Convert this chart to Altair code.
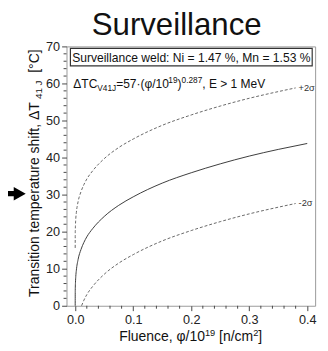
import altair as alt
import pandas as pd

# ---- data ----
fluence_mean = [0, 0.0001, 0.0005, 0.001, 0.002, 0.005, 0.01, 0.015, 0.02, 0.03,
                0.05, 0.075, 0.1, 0.15, 0.2, 0.25, 0.3, 0.35, 0.4]
shift_mean = [0, 4.1, 6.4, 7.9, 9.6, 12.5, 15.2, 17.1, 18.6, 20.8,
              24.1, 27.1, 29.4, 33.1, 35.9, 38.3, 40.4, 42.2, 43.8]

fluence_upper = [0, 0.0001, 0.0005, 0.001, 0.002, 0.005, 0.01, 0.015, 0.02, 0.03,
                 0.05, 0.075, 0.1, 0.15, 0.2, 0.25, 0.3, 0.35, 0.38]
shift_upper = [15.6, 19.7, 22.0, 23.5, 25.2, 28.1, 30.8, 32.7, 34.2, 36.4,
               39.7, 42.7, 45.0, 48.7, 51.5, 53.9, 56.0, 57.8, 58.8]

fluence_lower = [0.011, 0.015, 0.02, 0.03, 0.05, 0.075, 0.1, 0.15, 0.2, 0.25,
                 0.3, 0.35, 0.38]
shift_lower = [0, 1.5, 3.0, 5.2, 8.5, 11.5, 13.8, 17.5, 20.3, 22.7,
               24.8, 26.6, 27.6]

sigma_x = [0.38, 0.38]
sigma_y = [58.8, 27.6]
sigma_text = ["+2σ", "-2σ"]

x_ticks = [0.0, 0.1, 0.2, 0.3, 0.4]
y_ticks = [0, 10, 20, 30, 40, 50, 60, 70]
x_minor = [0.02, 0.04, 0.06, 0.08, 0.12, 0.14, 0.16, 0.18, 0.22, 0.24, 0.26, 0.28,
           0.32, 0.34, 0.36, 0.38]
y_minor = [2, 4, 6, 8, 12, 14, 16, 18, 22, 24, 26, 28, 32, 34, 36, 38, 42, 44, 46, 48,
           52, 54, 56, 58, 62, 64, 66, 68]

title_text = "Surveillance"
box_text = "Surveillance weld: Ni = 1.47 %, Mn = 1.53 %"
formula_pieces = [("ΔTC", "main"), ("V41J", "sub"), ("=57·(φ/10", "main"), ("19", "sup"),
                  (")", "main"), ("0.287", "sup"), (", E > 1 MeV", "main")]
ytitle_pieces = [("Transition temperature shift, ΔT", "main"), (" 41 J", "sub"), ("  [°C]", "main")]
xtitle_pieces = [("Fluence, φ/10", "main"), ("19", "sup"), (" [n/cm", "main"), ("2", "sup"), ("]", "main")]

# ---- layout ----
W, H = 255, 266
FONT = "Liberation Sans"

AW = {' ': 278, '%': 889, '(': 333, ')': 333, ',': 278, '.': 278, '/': 278, ':': 278,
      '=': 584, '>': 584, '[': 278, ']': 278, '°': 400, '·': 278, 'Δ': 668, 'φ': 650,
      '+': 584, '-': 333, 'σ': 617}
for c in '0123456789':
    AW[c] = 556
AW.update(dict(zip('ABCDEFGHIJKLMNOPQRSTUVWXYZ',
                   [667, 667, 722, 722, 667, 611, 778, 722, 278, 500, 667, 556, 833, 722,
                    778, 667, 778, 722, 667, 611, 722, 667, 944, 667, 667, 611])))
AW.update(dict(zip('abcdefghijklmnopqrstuvwxyz',
                   [556, 556, 500, 556, 556, 278, 556, 556, 222, 222, 500, 222, 833, 556,
                    556, 556, 556, 333, 500, 278, 556, 500, 722, 500, 500, 500])))


def tw(s, size):
    return sum(AW.get(c, 556) for c in s) * size / 1000.0


def one(text, x, y, size, angle=0, align="left", baseline="alphabetic", color="#111"):
    return alt.Chart(alt.Data(values=[{"k": 1}])).mark_text(
        text=text, fontSize=size, font=FONT, align=align, baseline=baseline,
        angle=angle, color=color
    ).encode(x=alt.value(x), y=alt.value(y))


def rich(pieces, x0, y0, main, small, sub, sup, rotated=False):
    layers = []
    pos = x0 if not rotated else y0
    sign = -1 if rotated else 1
    for text, kind in pieces:
        size = main if kind == "main" else small
        off = 0 if kind == "main" else (sub if kind == "sub" else sup)
        lead = len(text) - len(text.lstrip(" "))
        core = text.strip(" ")
        trail = len(text.rstrip(" ")) - len(core) if False else len(text) - lead - len(core)
        pos += sign * lead * AW[" "] * size / 1000.0
        if rotated:
            layers.append(one(core, x0 + off, pos, size, angle=270))
        else:
            layers.append(one(core, pos, y0 + off, size))
        pos += sign * (tw(core, size) + trail * AW[" "] * size / 1000.0)
    return layers


xscale = alt.Scale(domain=[-0.015, 0.4136], nice=False, zero=False)
yscale = alt.Scale(domain=[0, 70], nice=False)
xaxis = alt.Axis(values=x_ticks, format=".1f", title=None, tickSize=5, labelPadding=3,
                 domain=False, grid=False, labelFontSize=13, labelFont=FONT,
                 labelColor="#222", tickColor="#444")
yaxis = alt.Axis(values=y_ticks, format="d", title=None, tickSize=5, labelPadding=2,
                 domain=False, grid=False, labelFontSize=13, labelFont=FONT,
                 labelColor="#222", tickColor="#444")
X = alt.X("fluence:Q", scale=xscale, axis=xaxis)
Y = alt.Y("shift:Q", scale=yscale, axis=yaxis)

mean_df = pd.DataFrame({"fluence": fluence_mean, "shift": shift_mean})
up_df = pd.DataFrame({"fluence": fluence_upper, "shift": shift_upper})
lo_df = pd.DataFrame({"fluence": fluence_lower, "shift": shift_lower})
sig_df = pd.DataFrame({"fluence": sigma_x, "shift": sigma_y, "label": sigma_text})
xm_df = pd.DataFrame({"fluence": x_minor})
ym_df = pd.DataFrame({"shift": y_minor})

mean = alt.Chart(mean_df).mark_line(color="#3a3a3a", strokeWidth=1, interpolate="monotone").encode(x=X, y=Y)
upper = alt.Chart(up_df).mark_line(color="#666", strokeWidth=1, strokeDash=[3, 2],
                                   interpolate="monotone").encode(x=X, y=Y)
lower = alt.Chart(lo_df).mark_line(color="#666", strokeWidth=1, strokeDash=[3, 2],
                                   interpolate="monotone").encode(x=X, y=Y)
sig = alt.Chart(sig_df).mark_text(align="left", baseline="middle", dx=3, fontSize=9.5,
                                  font=FONT, color="#333").encode(x=X, y=Y, text="label:N")
xminor = alt.Chart(xm_df).mark_rule(color="#444", strokeWidth=1).encode(
    x=X, y=alt.value(H), y2=alt.value(H + 3))
yminor = alt.Chart(ym_df).mark_rule(color="#444", strokeWidth=1).encode(
    y=Y, x=alt.value(0), x2=alt.value(-3))

box = alt.Chart(alt.Data(values=[{"k": 1}])).mark_rect(
    fill="white", stroke="#333", strokeWidth=1.2
).encode(x=alt.value(4), x2=alt.value(252), y=alt.value(2), y2=alt.value(20))

arrow_path = "M -1 -0.25 L -0.1 -0.25 L -0.1 -0.62 L 1 0 L -0.1 0.62 L -0.1 0.25 L -1 0.25 Z"
arrow = alt.Chart(alt.Data(values=[{"k": 1}])).mark_point(
    shape=arrow_path, filled=True, fill="black", strokeWidth=0, size=500, opacity=1
).encode(x=alt.value(-53), y=alt.value(151))

layers = [xminor, yminor, upper, lower, mean, sig, box,
          one(box_text, 128, 11.5, 12.4, align="center", baseline="middle"),
          one(title_text, 113, -11.5, 32, align="center"),
          arrow]
layers += rich(formula_pieces, 7, 43, 12.3, 8.5, 3, -5)
layers += rich(ytitle_pieces, -28, 257, 14.3, 10, 3, -5, rotated=True)
layers += rich(xtitle_pieces, 54, 302, 14.3, 9.5, 3, -5)

chart = alt.layer(*layers).properties(
    width=W, height=H,
    autosize=alt.AutoSizeParams(type="none"),
    padding={"left": 60, "top": 35, "right": 5, "bottom": 42},
).configure_view(stroke="#999", strokeWidth=1)

chart.save("out.html", embed_options={"renderer": "svg", "actions": False})
